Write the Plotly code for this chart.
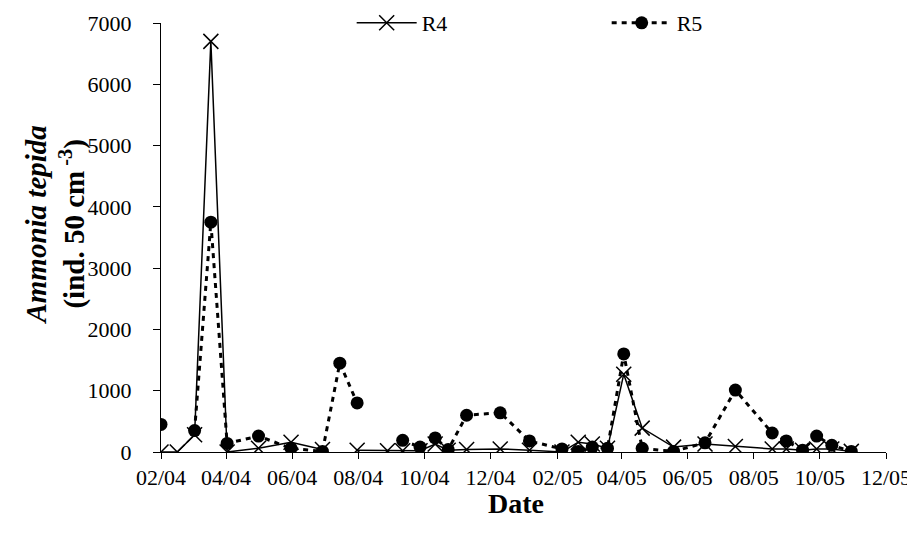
import plotly.graph_objects as go

dates = [
    "2004-02-01", "2004-02-16", "2004-03-03", "2004-03-18", "2004-04-02",
    "2004-05-01", "2004-05-31", "2004-06-29", "2004-07-15", "2004-07-31",
    "2004-08-28", "2004-09-11", "2004-09-27", "2004-10-11", "2004-10-23",
    "2004-11-09", "2004-12-10", "2005-01-06", "2005-02-05", "2005-02-20",
    "2005-03-05", "2005-03-19", "2005-04-03", "2005-04-20", "2005-05-19",
    "2005-06-17", "2005-07-15", "2005-08-18", "2005-08-31", "2005-09-15",
    "2005-09-28", "2005-10-12", "2005-10-30",
]

r4 = [0, 0, 280, 6700, 0,
      60, 160, 40, None, 30,
      20, 20, 20, 130, 30,
      40, 50, 30, 0, 160,
      130, 60, 1270, 390, 80,
      130, 90, 50, 50, 30,
      50, 50, 10]

r5 = [450, None, 350, 3750, 140,
      260, 60, 10, 1450, 800,
      None, 190, 80, 230, 40,
      600, 640, 180, 50, 10,
      80, 60, 1600, 60, 10,
      150, 1010, 310, 180, 30,
      260, 110, 10]

y_ticks = [0, 1000, 2000, 3000, 4000, 5000, 6000, 7000]

FONT = "Liberation Serif, Times New Roman, serif"

fig = go.Figure()
fig.add_trace(go.Scatter(
    x=dates, y=r4, name="R4", mode="lines+markers",
    line=dict(color="black", width=1.5),
    marker=dict(symbol="x-thin-open", size=15, color="black",
                line=dict(color="black", width=1.5)),
    connectgaps=False,
))
fig.add_trace(go.Scatter(
    x=dates, y=r5, name="R5", mode="lines+markers",
    line=dict(color="black", width=3, dash="5px,5px"),
    marker=dict(symbol="circle", size=13, color="black"),
    connectgaps=False,
))

fig.update_layout(
    width=907, height=533,
    margin=dict(l=153, r=29, t=15, b=89, autoexpand=False),
    paper_bgcolor="white", plot_bgcolor="white",
    font=dict(family=FONT, size=22, color="black"),
    showlegend=True,
    legend=dict(orientation="h", x=0.263, y=1.0, xanchor="left", yanchor="middle",
                itemwidth=60, entrywidth=180, font=dict(size=22),
                bgcolor="rgba(0,0,0,0)", tracegroupgap=0),
    xaxis=dict(
        type="date", range=["2004-02-01", "2005-12-01"],
        tick0="2004-02-01", dtick="M2", tickformat="%m/%y",
        showgrid=False, zeroline=False,
        showline=True, linecolor="black", linewidth=1,
        ticks="outside", ticklen=6, tickcolor="black",
        tickfont=dict(size=22),
    ),
    yaxis=dict(
        range=[0, 7000], tickvals=y_ticks,
        showgrid=False, zeroline=False,
        showline=True, linecolor="black", linewidth=1,
        ticks="outside", ticklen=7, tickcolor="black",
        ticklabelstandoff=17,
        tickfont=dict(size=22),
    ),
    annotations=[
        dict(text="<b>Date</b>", xref="paper", yref="paper", x=0.49, y=-0.119,
             xanchor="center", yanchor="middle", showarrow=False,
             font=dict(size=28, family=FONT)),
        dict(text="<b><i>Ammonia tepida</i></b><br><b>(ind. 50 cm<sup> -3</sup>)</b>",
             xref="paper", yref="paper", x=-0.1455, y=0.529,
             xanchor="center", yanchor="middle", textangle=-90, showarrow=False,
             font=dict(size=29, family=FONT)),
    ],
)

fig.write_html("out.html")
